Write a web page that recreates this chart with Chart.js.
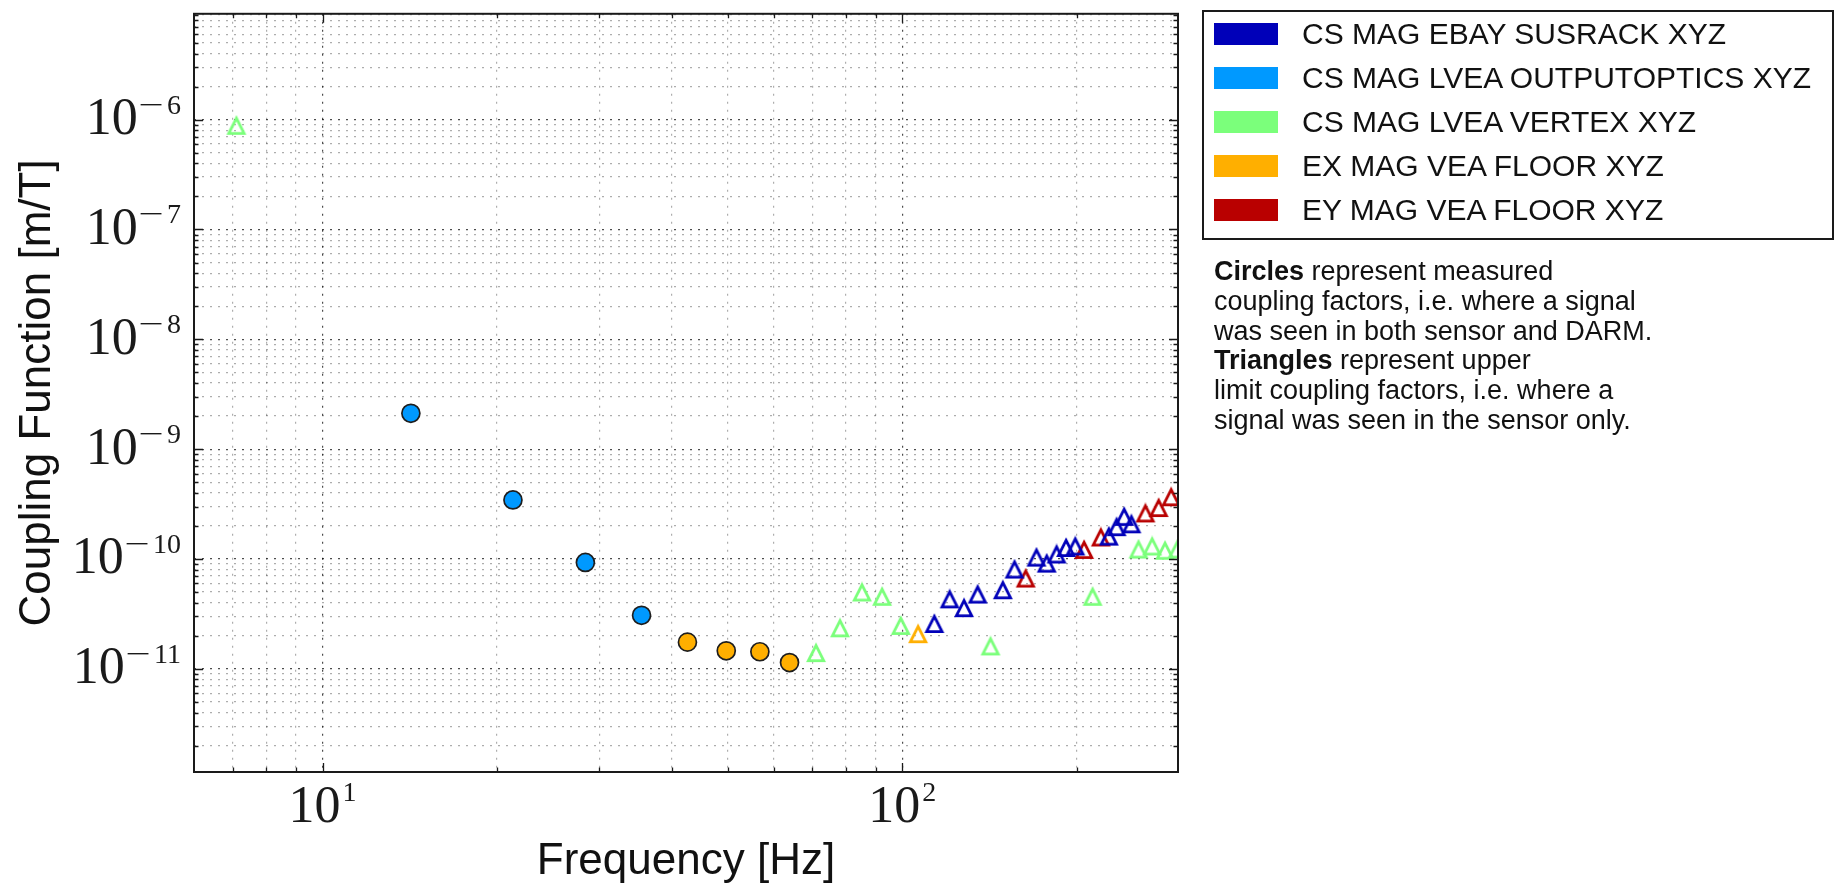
<!DOCTYPE html>
<html>
<head>
<meta charset="utf-8">
<script src="https://cdn.jsdelivr.net/npm/chart.js@4.4.1/dist/chart.umd.min.js"></script>
<style>
  html, body { margin: 0; padding: 0; background: #ffffff; }
  #wrap { position: relative; width: 1835px; height: 887px; overflow: hidden; }
  #c { position: absolute; left: 0; top: 0; }
  #legend { position: absolute; left: 1202px; top: 10px; width: 632px; height: 230px; border: 2px solid #1a1a1a; box-sizing: border-box; font-family: "Liberation Sans", Arial, sans-serif; font-size: 30px; color: #111; }
  .item { position: absolute; left: 10px; height: 44px; display: flex; align-items: center; white-space: nowrap; }
  .sw { width: 64px; height: 22px; margin-right: 24px; flex: none; }
  #note { position: absolute; left: 1214px; top: 257px; font-family: "Liberation Sans", Arial, sans-serif; font-size: 27px; line-height: 29.8px; color: #111; white-space: nowrap; }
</style>
</head>
<body>
<div id="wrap">
  <canvas id="c" width="1835" height="887"></canvas>
  <div id="legend"></div>
  <div id="note"><b>Circles</b> represent measured<br>coupling factors, i.e. where a signal<br>was seen in both sensor and DARM.<br><b>Triangles</b> represent upper<br>limit coupling factors, i.e. where a<br>signal was seen in the sensor only.</div>
</div>
<script>
// ---------------- data ----------------
const seriesNames = [
  "CS MAG EBAY SUSRACK XYZ",
  "CS MAG LVEA OUTPUTOPTICS XYZ",
  "CS MAG LVEA VERTEX XYZ",
  "EX MAG VEA FLOOR XYZ",
  "EY MAG VEA FLOOR XYZ"
];
const seriesColors = ["#0000b9", "#0099ff", "#7bff7b", "#ffaf00", "#b90000"];

// measured coupling factors (circles)
const outputopticsMeasFreq = [14.2, 21.3, 28.4, 35.5];
const outputopticsMeasVal  = [2.12e-9, 3.45e-10, 9.3e-11, 3.07e-11];
const exMeasFreq = [42.6, 49.7, 56.8, 63.9];
const exMeasVal  = [1.75e-11, 1.46e-11, 1.43e-11, 1.14e-11];

// upper-limit coupling factors (triangles)
const vertexUpperFreq = [7.1, 71.0, 78.1, 85.2, 92.3, 99.4, 142.0, 213.0, 255.6, 269.8, 284.0, 298.2];
const vertexUpperVal  = [8.8e-7, 1.39e-11, 2.34e-11, 4.96e-11, 4.53e-11, 2.46e-11, 1.60e-11, 4.53e-11, 1.22e-10, 1.30e-10, 1.19e-10, 1.22e-10];
const exUpperFreq = [106.5];
const exUpperVal  = [2.07e-11];
const ebayUpperFreq = [113.6, 120.7, 127.8, 134.9, 149.1, 156.2, 170.4, 177.5, 184.6, 191.7, 198.8, 227.2, 234.3, 241.4, 248.5];
const ebayUpperVal  = [2.56e-11, 4.29e-11, 3.57e-11, 4.75e-11, 5.20e-11, 8.02e-11, 1.03e-10, 9.08e-11, 1.10e-10, 1.26e-10, 1.30e-10, 1.60e-10, 1.95e-10, 2.42e-10, 2.07e-10];
const eyUpperFreq = [163.3, 205.9, 220.1, 262.7, 276.9, 291.0];
const eyUpperVal  = [6.64e-11, 1.21e-10, 1.57e-10, 2.60e-10, 2.91e-10, 3.65e-10];

// axes
const xMin = 6.0, xMax = 299;
const yMin = 1.15e-12, yMax = 9.2e-6;
const xMajorTicks = [10, 100];
const yMajorTicks = [1e-11, 1e-10, 1e-9, 1e-8, 1e-7, 1e-6];
const xTitle = "Frequency [Hz]";
const yTitle = "Coupling Function [m/T]";

// ---------------- legend ----------------
const legendEl = document.getElementById('legend');
seriesNames.forEach((n, i) => {
  const d = document.createElement('div');
  d.className = 'item';
  d.style.top = (i * 43.9) + 'px';
  d.innerHTML = '<span class="sw" style="background:' + seriesColors[i] + '"></span><span>' + n + '</span>';
  legendEl.appendChild(d);
});

// ---------------- helpers ----------------
function pts(xs, ys) { return xs.map((x, i) => ({ x: x, y: ys[i] })); }
function logTicks(lo, hi) {
  const out = [];
  for (let e = Math.floor(Math.log10(lo)); e <= Math.ceil(Math.log10(hi)); e++) {
    for (let k = 1; k <= 9; k++) {
      const v = k * Math.pow(10, e);
      if (v >= lo * 0.999999 && v <= hi * 1.000001) out.push(v);
    }
  }
  return out;
}
function isDecade(v) { const l = Math.log10(v); return Math.abs(l - Math.round(l)) < 1e-6; }

// open triangle marker (apex up, width == height, centred on its box)
function triangleMarker(color) {
  const S = 22, c = document.createElement('canvas');
  c.width = S; c.height = S;
  const g = c.getContext('2d');
  const h = 7.7, m = S / 2;
  g.strokeStyle = color; g.lineWidth = 2.8; g.lineJoin = 'miter';
  g.beginPath();
  g.moveTo(m, m - h); g.lineTo(m - h, m + h); g.lineTo(m + h, m + h); g.closePath();
  g.stroke();
  return c;
}

function circleSet(label, color, xs, ys) {
  return { label, data: pts(xs, ys), showLine: false, clip: 0,
    pointStyle: 'circle', pointRadius: 9, pointHoverRadius: 9,
    pointBackgroundColor: color, pointBorderColor: '#1e1e1e', pointBorderWidth: 1.7,
    backgroundColor: color, borderColor: '#1e1e1e' };
}
function triSet(label, color, xs, ys) {
  return { label, data: pts(xs, ys), showLine: false, clip: 0,
    pointStyle: triangleMarker(color), pointRadius: 11, pointHoverRadius: 11,
    pointBackgroundColor: 'rgba(0,0,0,0)', pointBorderColor: color, pointBorderWidth: 2.8,
    backgroundColor: 'rgba(0,0,0,0)', borderColor: color };
}

const datasets = [
  triSet(seriesNames[0] + ' (upper limit)', seriesColors[0], ebayUpperFreq, ebayUpperVal),
  circleSet(seriesNames[1], seriesColors[1], outputopticsMeasFreq, outputopticsMeasVal),
  triSet(seriesNames[2] + ' (upper limit)', seriesColors[2], vertexUpperFreq, vertexUpperVal),
  circleSet(seriesNames[3], seriesColors[3], exMeasFreq, exMeasVal),
  triSet(seriesNames[3] + ' (upper limit)', seriesColors[3], exUpperFreq, exUpperVal),
  triSet(seriesNames[4] + ' (upper limit)', seriesColors[4], eyUpperFreq, eyUpperVal)
];

const SERIF = '"Liberation Serif", "DejaVu Serif", serif';
const SANS = '"Liberation Sans", Arial, sans-serif';
const BASE_FONT = '52px ' + SERIF, SUP_FONT = '28px ' + SERIF;
const MINUS_STRETCH = 1.6;

function expWidth(ctx, exp) {
  ctx.font = SUP_FONT;
  if (exp < 0) return ctx.measureText('\u2212').width * MINUS_STRETCH + 3 + ctx.measureText(String(-exp)).width;
  return ctx.measureText(String(exp)).width;
}
function drawExp(ctx, exp, x, y) {
  ctx.font = SUP_FONT;
  let cx = x;
  if (exp < 0) {
    const mw = ctx.measureText('\u2212').width;
    ctx.save(); ctx.translate(cx, y); ctx.scale(MINUS_STRETCH, 1); ctx.fillText('\u2212', 0, 0); ctx.restore();
    cx += mw * MINUS_STRETCH + 3;
    ctx.fillText(String(-exp), cx, y);
  } else {
    ctx.fillText(String(exp), cx, y);
  }
}

const frameAndLabels = {
  id: 'frameAndLabels',
  afterDraw(chart) {
    const ctx = chart.ctx;
    const a = chart.chartArea;
    const xs = chart.scales.x, ys = chart.scales.y;
    ctx.save();
    // inward tick marks on all four sides
    ctx.strokeStyle = '#1a1a1a';
    ctx.lineWidth = 1.3;
    xs.ticks.forEach(t => {
      const px = Math.round(xs.getPixelForValue(t.value)) + 0.5;
      if (px <= a.left + 1 || px >= a.right - 1) return;
      const L = isDecade(t.value) ? 9 : 4.5;
      ctx.beginPath();
      ctx.moveTo(px, a.bottom); ctx.lineTo(px, a.bottom - L);
      ctx.moveTo(px, a.top); ctx.lineTo(px, a.top + L);
      ctx.stroke();
    });
    ys.ticks.forEach(t => {
      const py = Math.round(ys.getPixelForValue(t.value)) + 0.5;
      if (py <= a.top + 1 || py >= a.bottom - 1) return;
      const L = isDecade(t.value) ? 9 : 4.5;
      ctx.beginPath();
      ctx.moveTo(a.left, py); ctx.lineTo(a.left + L, py);
      ctx.moveTo(a.right, py); ctx.lineTo(a.right - L, py);
      ctx.stroke();
    });
    // frame
    ctx.lineWidth = 2;
    ctx.strokeStyle = '#1a1a1a';
    ctx.strokeRect(a.left, a.top, a.right - a.left, a.bottom - a.top);

    // tick labels 10^n
    ctx.fillStyle = '#1a1a1a';
    ctx.textBaseline = 'alphabetic';
    ctx.textAlign = 'left';
    yMajorTicks.forEach(v => {
      const py = ys.getPixelForValue(v);
      const e = Math.round(Math.log10(v));
      const we = expWidth(ctx, e);
      ctx.font = BASE_FONT; const wb = ctx.measureText('10').width;
      const ex = 181 - we;
      const bx = ex - 1 - wb;
      ctx.font = BASE_FONT; ctx.fillText('10', bx, py + 14.5);
      drawExp(ctx, e, ex, py + 14.5 - 20.5);
    });
    xMajorTicks.forEach(v => {
      const px = xs.getPixelForValue(v);
      const e = Math.round(Math.log10(v));
      const we = expWidth(ctx, e);
      ctx.font = BASE_FONT; const wb = ctx.measureText('10').width;
      const tot = wb + 2 + we;
      const bx = px - tot / 2;
      ctx.font = BASE_FONT; ctx.fillText('10', bx, 821.5);
      drawExp(ctx, e, bx + wb + 2, 821.5 - 21);
    });

    // axis titles
    ctx.font = '44px ' + SANS;
    ctx.fillStyle = '#111';
    ctx.textAlign = 'center';
    ctx.fillText(xTitle, (a.left + a.right) / 2, 874);
    ctx.save();
    ctx.translate(50, (a.top + a.bottom) / 2);
    ctx.rotate(-Math.PI / 2);
    ctx.textBaseline = 'alphabetic';
    ctx.fillText(yTitle, 0, 0);
    ctx.restore();
    ctx.restore();
  }
};

new Chart(document.getElementById('c'), {
  type: 'scatter',
  data: { datasets },
  options: {
    responsive: false,
    devicePixelRatio: 1,
    animation: false,
    layout: { padding: { left: 194, top: 11, right: 1835 - 1178, bottom: 887 - 772 } },
    plugins: { legend: { display: false }, tooltip: { enabled: false } },
    scales: {
      x: {
        type: 'logarithmic', min: xMin, max: xMax,
        afterBuildTicks: s => { s.ticks = logTicks(xMin, xMax).map(v => ({ value: v, major: isDecade(v) })); },
        ticks: { display: false },
        grid: { drawTicks: false, lineWidth: 1.2,
          color: c => (c.tick && isDecade(c.tick.value)) ? 'rgba(0,0,0,0.7)' : 'rgba(0,0,0,0.32)' },
        border: { display: false, dash: [2, 6] },
        title: { display: false, text: xTitle }
      },
      y: {
        type: 'logarithmic', min: yMin, max: yMax,
        afterBuildTicks: s => { s.ticks = logTicks(yMin, yMax).map(v => ({ value: v, major: isDecade(v) })); },
        ticks: { display: false },
        grid: { drawTicks: false, lineWidth: 1.2,
          color: c => (c.tick && isDecade(c.tick.value)) ? 'rgba(0,0,0,0.7)' : 'rgba(0,0,0,0.32)' },
        border: { display: false, dash: [2, 6] },
        title: { display: false, text: yTitle }
      }
    }
  },
  plugins: [frameAndLabels]
});
</script>
</body>
</html>
